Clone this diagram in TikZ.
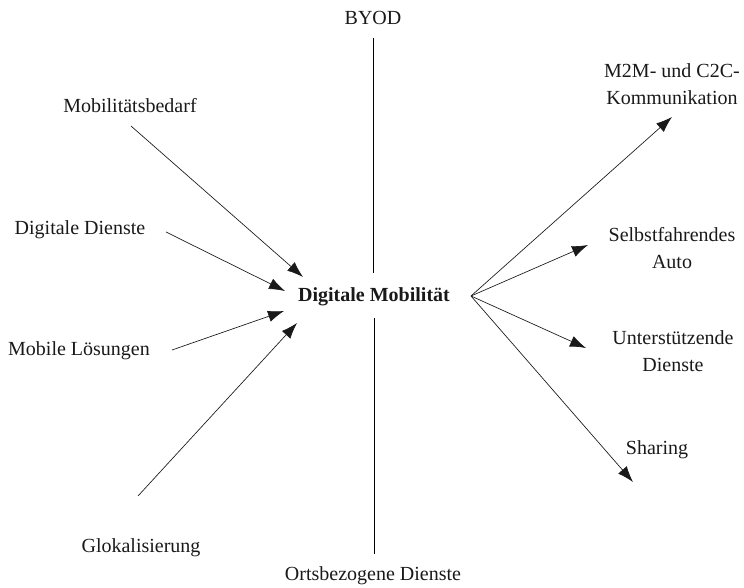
\documentclass[tikz,border=0pt]{standalone}
\usepackage{fontspec}
\setmainfont{Liberation Serif}
\usetikzlibrary{arrows.meta}
\begin{document}
\begin{tikzpicture}[x=0.75pt,y=-0.75pt,
  lbl/.style={font=\fontsize{15}{20}\selectfont, align=center, inner sep=0pt, text=black!90},
  conn/.style={line width=0.5pt, draw=black!90},
  arr/.style={conn, -{Latex[length=12pt,width=8.5pt]}},
  axis/.style={line width=0.75pt, draw=black}]
\useasboundingbox (0,0) rectangle (744,588);
% labels
\node[lbl] (byod) at (373,18) {BYOD};
\node[lbl] (orts) at (373,576) {Ortsbezogene Dienste};
\node[lbl,font=\fontsize{15}{20}\selectfont\bfseries] (center) at (374,297) {Digitale Mobilität};
\node[lbl] (mob) at (130,106) {Mobilitätsbedarf};
\node[lbl] (dd) at (80,230) {Digitale Dienste};
\node[lbl] (ml) at (79,351) {Mobile Lösungen};
\node[lbl] (glo) at (141,548) {Glokalisierung};
\node[lbl] (m2m) at (672,84) {M2M- und C2C-\\Kommunikation};
\node[lbl] (auto) at (672,248) {Selbstfahrendes\\Auto};
\node[lbl] (unt) at (673,351) {Unterstützende\\Dienste};
\node[lbl] (shr) at (657,450) {Sharing};
% connector points
\coordinate (byodS) at (373,38);
\coordinate (byodE) at (373,273);
\coordinate (ortsS) at (374,318);
\coordinate (ortsE) at (374,554);
\coordinate (mobS) at (131,126);
\coordinate (mobE) at (303,277);
\coordinate (ddS) at (166,232);
\coordinate (ddE) at (285,291);
\coordinate (mlS) at (172,350);
\coordinate (mlE) at (284,311);
\coordinate (gloS) at (138,496);
\coordinate (gloE) at (297,323);
\coordinate (hub) at (471,296);
\coordinate (m2mE) at (672,117);
\coordinate (autoE) at (588,245);
\coordinate (untE) at (586,348);
\coordinate (shrE) at (633,482);
% connectors
\draw[axis] (byodS) -- (byodE);
\draw[axis] (ortsS) -- (ortsE);
\draw[arr] (mobS) -- (mobE);
\draw[arr] (ddS) -- (ddE);
\draw[arr] (mlS) -- (mlE);
\draw[arr] (gloS) -- (gloE);
\draw[arr] (hub) -- (m2mE);
\draw[arr] (hub) -- (autoE);
\draw[arr] (hub) -- (untE);
\draw[arr] (hub) -- (shrE);
\end{tikzpicture}
\end{document}
